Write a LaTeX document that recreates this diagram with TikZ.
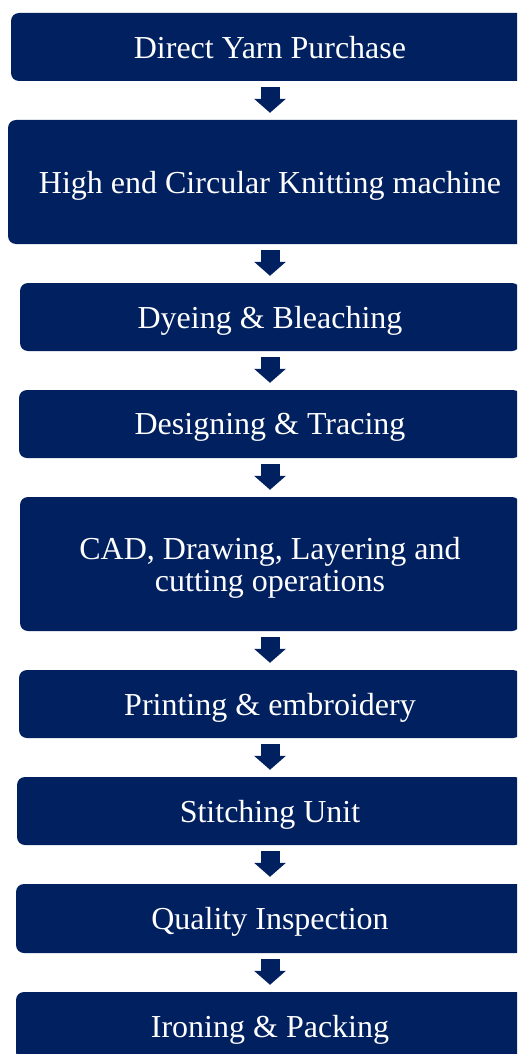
\documentclass[tikz,border=0pt]{standalone}
\usepackage{fontspec}
\setmainfont{Liberation Serif}
\usetikzlibrary{arrows.meta}
\definecolor{navy}{RGB}{0,32,96}
\tikzset{
  stepbox/.style={fill=navy, draw=none, rounded corners=8pt, text=white,
    font=\fontsize{32}{32}\selectfont, align=center, inner sep=0pt, anchor=center, text depth=0pt},
  flowarrow/.style={draw=navy, line width=19pt,
    -{Triangle[width=31pt,length=14pt]}, shorten <=6pt, shorten >=7pt}
}
\begin{document}
\begin{tikzpicture}[x=1pt,y=-1pt]
\useasboundingbox (0,0) rectangle (517,1054);
\clip (0,0) rectangle (517,1054);
\node[stepbox, minimum width=518pt, minimum height=68pt]  (b1) at (270,47)   {Direct Yarn Purchase};
\node[stepbox, minimum width=524pt, minimum height=124pt] (b2) at (270,182)  {High end Circular Knitting machine};
\node[stepbox, minimum width=500pt, minimum height=68pt]  (b3) at (270,317)  {Dyeing \& Bleaching};
\node[stepbox, minimum width=502pt, minimum height=68pt]  (b4) at (270,424)  {Designing \& Tracing};
\node[stepbox, minimum width=500pt, minimum height=134pt] (b5) at (270,564)  {CAD, Drawing, Layering and\\cutting operations};
\node[stepbox, minimum width=502pt, minimum height=68pt]  (b6) at (270,704)  {Printing \& embroidery};
\node[stepbox, minimum width=506pt, minimum height=68pt]  (b7) at (270,811)  {Stitching Unit};
\node[stepbox, minimum width=508pt, minimum height=69pt]  (b8) at (270,918.5) {Quality Inspection};
\node[stepbox, minimum width=508pt, minimum height=68pt]  (b9) at (270,1026) {Ironing \& Packing};
\foreach \a/\b in {b1/b2,b2/b3,b3/b4,b4/b5,b5/b6,b6/b7,b7/b8,b8/b9}
  \draw[flowarrow] (\a.south) -- (\b.north);
\end{tikzpicture}
\end{document}
